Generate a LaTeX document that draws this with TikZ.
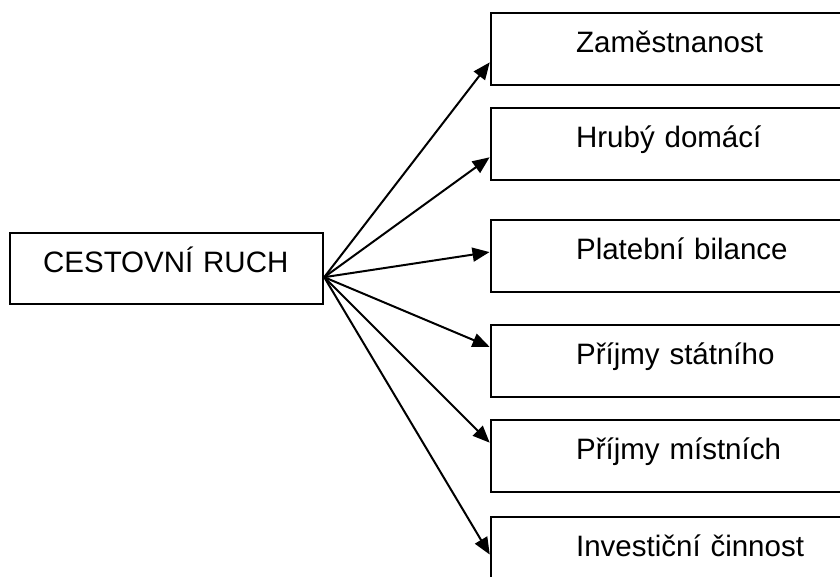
\documentclass[tikz,border=0pt]{standalone}
\usepackage{fontspec}
\setmainfont{Liberation Sans}
\usetikzlibrary{arrows.meta,calc}
\begin{document}
\begin{tikzpicture}[x=1pt,y=-1pt,
  box/.style={draw, line width=2.2pt, anchor=north west, inner ysep=0pt,
    text height=39pt, text depth=33pt, align=left,
    font=\fontsize{29.5}{34}\selectfont},
  rbox/.style={box, inner xsep=85pt, text width=240pt},
  arr/.style={line width=2pt, -{Triangle[length=17pt,width=14pt]}, shorten >=0.5pt}]
\useasboundingbox (0,0) rectangle (840,577);
\clip (0,0) rectangle (840,577);
\node[box, inner xsep=33pt, text width=247pt, text depth=32pt] (c) at (9,232) {CESTOVNÍ RUCH};
\node[rbox] (b1) at (490,12) {Zaměstnanost};
\node[rbox] (b2) at (490,107) {Hrubý domácí};
\node[rbox] (b3) at (490,219) {Platební bilance};
\node[rbox] (b4) at (490,324) {Příjmy státního};
\node[rbox] (b5) at (490,419) {Příjmy místních};
\node[rbox] (b6) at (490,516) {Investiční činnost};
\coordinate (o) at ($(c.south east)+(0,-28)$);
\draw[arr] (o) -- ($(b1.north west)+(0,50)$);
\draw[arr] (o) -- ($(b2.north west)+(0,50)$);
\draw[arr] (o) -- ($(b3.north west)+(0,33)$);
\draw[arr] (o) -- ($(b4.north west)+(0,23)$);
\draw[arr] (o) -- ($(b5.north west)+(0,24)$);
\draw[arr] (o) -- ($(b6.north west)+(0,39)$);
\end{tikzpicture}
\end{document}
